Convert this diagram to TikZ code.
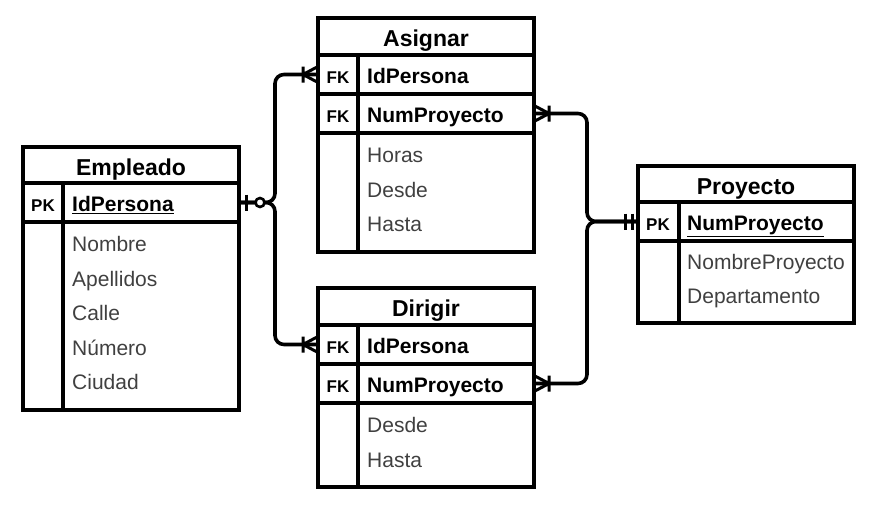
\documentclass[tikz,border=0pt]{standalone}
\usepackage{fontspec}
\setmainfont{Liberation Sans}
\usepackage{tikz}
\usetikzlibrary{positioning,calc}
\definecolor{fieldgray}{HTML}{404040}

\tikzset{
  tbl/.style={draw, line width=3.6pt, outer sep=0pt, inner sep=0pt, anchor=north west, minimum width=216pt},
  ttl/.style={tbl, text height=20pt, text depth=0pt, font=\fontsize{23}{27}\selectfont\bfseries},
  keylbl/.style={inner sep=0pt, text height=17.5pt, text depth=0pt, font=\fontsize{17}{20}\selectfont\bfseries},
  keyfld/.style={anchor=west, inner sep=0pt, text height=18pt, text depth=0pt, font=\fontsize{21}{25}\selectfont\bfseries},
  fld/.style={anchor=west, inner sep=0pt, text height=14pt, text depth=0pt, text=fieldgray, font=\fontsize{21}{25}\selectfont},
  divider/.style={line width=3.6pt},
  rel/.style={line width=3.6pt, rounded corners=9pt},
  onemany/.pic={\draw[line width=3pt] (-15,0) -- (0,-8) (-15,0) -- (0,8) (-15,-8) -- (-15,8);},
  zeroone/.pic={\draw[line width=3pt] (7,-8) -- (7,8); \draw[line width=2.6pt, fill=white] (21,0) circle (4.5pt);},
  mandone/.pic={\draw[line width=3pt] (-13,-8) -- (-13,8) (-6,-8) -- (-6,8);}
}

\begin{document}
\begin{tikzpicture}[x=1pt, y=-1pt]
  \useasboundingbox (0,0) rectangle (880,514);

  % Empleado
  \node[ttl, minimum height=36pt] (emp) at (23,147) {Empleado};
  \node[tbl, minimum height=39pt] (empPK) at (23,183) {};
  \node[tbl, minimum height=188pt] (empAtt) at (23,222) {};
  \draw[divider] ($(empPK.north west)+(40,0)$) -- ($(empAtt.south west)+(40,0)$);
  \node[keylbl] (empK) at ($(empPK.west)+(20,0)$) {PK};
  \node[keyfld] (empId) at ($(empPK.west)+(49,0)$) {\underline{IdPersona}};
  \foreach \f [count=\i] in {Nombre,Apellidos,Calle,Número,Ciudad} {
    \node[fld] (emp\i) at ($(empAtt.north west)+(49,34.5*\i-12)$) {\f};
  }

  % Asignar
  \node[ttl, minimum height=37pt] (asg) at (318,18) {Asignar};
  \node[tbl, minimum height=39pt] (asgFK1) at (318,55) {};
  \node[tbl, minimum height=39pt] (asgFK2) at (318,94) {};
  \node[tbl, minimum height=119pt] (asgAtt) at (318,133) {};
  \draw[divider] ($(asgFK1.north west)+(40,0)$) -- ($(asgAtt.south west)+(40,0)$);
  \node[keylbl] (asgK1) at ($(asgFK1.west)+(20,0)$) {FK};
  \node[keylbl] (asgK2) at ($(asgFK2.west)+(20,0)$) {FK};
  \node[keyfld] (asgId) at ($(asgFK1.west)+(49,0)$) {IdPersona};
  \node[keyfld] (asgNum) at ($(asgFK2.west)+(49,0)$) {NumProyecto};
  \foreach \f [count=\i] in {Horas,Desde,Hasta} {
    \node[fld] (asg\i) at ($(asgAtt.north west)+(49,34.5*\i-12)$) {\f};
  }

  % Dirigir
  \node[ttl, minimum height=37pt] (dir) at (318,288) {Dirigir};
  \node[tbl, minimum height=39pt] (dirFK1) at (318,325) {};
  \node[tbl, minimum height=39pt] (dirFK2) at (318,364) {};
  \node[tbl, minimum height=84pt] (dirAtt) at (318,403) {};
  \draw[divider] ($(dirFK1.north west)+(40,0)$) -- ($(dirAtt.south west)+(40,0)$);
  \node[keylbl] (dirK1) at ($(dirFK1.west)+(20,0)$) {FK};
  \node[keylbl] (dirK2) at ($(dirFK2.west)+(20,0)$) {FK};
  \node[keyfld] (dirId) at ($(dirFK1.west)+(49,0)$) {IdPersona};
  \node[keyfld] (dirNum) at ($(dirFK2.west)+(49,0)$) {NumProyecto};
  \foreach \f [count=\i] in {Desde,Hasta} {
    \node[fld] (dir\i) at ($(dirAtt.north west)+(49,34.5*\i-12)$) {\f};
  }

  % Proyecto
  \node[ttl, minimum height=36pt] (pro) at (638,166) {Proyecto};
  \node[tbl, minimum height=39pt] (proPK) at (638,202) {};
  \node[tbl, minimum height=82pt] (proAtt) at (638,241) {};
  \draw[divider] ($(proPK.north west)+(41,0)$) -- ($(proAtt.south west)+(41,0)$);
  \node[keylbl] (proK) at ($(proPK.west)+(20,0)$) {PK};
  \node[keyfld] (proNum) at ($(proPK.west)+(49,0)$) {\underline{NumProyecto}};
  \foreach \f [count=\i] in {NombreProyecto,Departamento} {
    \node[fld] (pro\i) at ($(proAtt.north west)+(49,34.5*\i-13.5)$) {\f};
  }

  % relations
  \draw[rel] (empPK.east) -- ++(36,0) |- (asgFK1.west);
  \draw[rel] (empPK.east) -- ++(36,0) |- (dirFK1.west);
  \draw[rel] (asgFK2.east) -- ++(53,0) |- (proPK.west);
  \draw[rel] (dirFK2.east) -- ++(53,0) |- (proPK.west);
  \pic at (empPK.east) {zeroone};
  \pic at (asgFK1.west) {onemany};
  \pic at (dirFK1.west) {onemany};
  \pic[xscale=-1] at (asgFK2.east) {onemany};
  \pic[xscale=-1] at (dirFK2.east) {onemany};
  \pic at (proPK.west) {mandone};
\end{tikzpicture}
\end{document}
